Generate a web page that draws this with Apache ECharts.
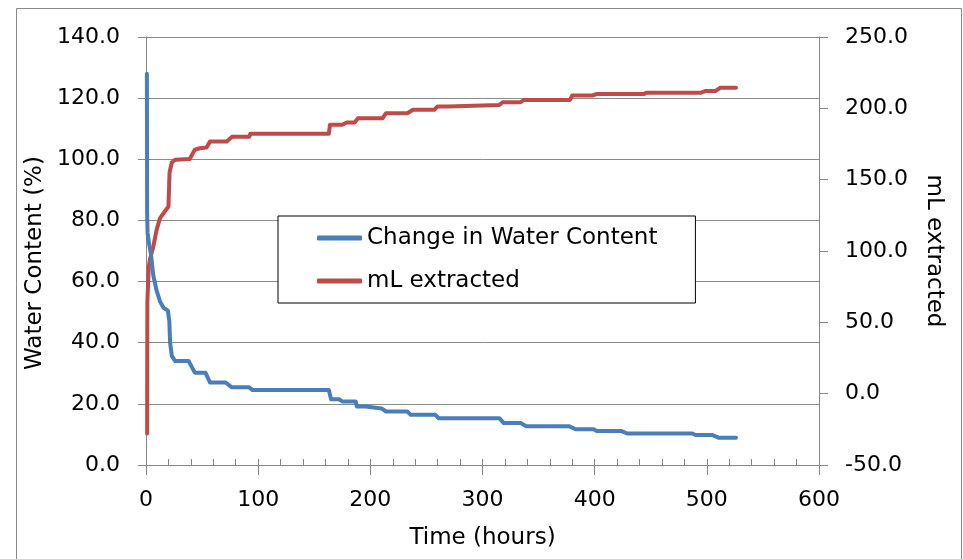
<!DOCTYPE html>
<html>
<head>
<meta charset="utf-8">
<script src="https://cdn.jsdelivr.net/npm/echarts@6/dist/echarts.min.js"></script>
<style>
  html, body { margin: 0; padding: 0; background: #fff; }
  #chart { width: 963px; height: 559px; }
</style>
</head>
<body>
<div id="chart"></div>
<script>
// hours vs water content (%)
const wcTime = [0.8, 1, 1.4, 2.9, 4.4, 6.5, 9.5, 12.5, 15.5, 19.5, 20.8, 21.5, 23, 26, 38, 43.5, 53, 57, 71, 76.5, 92, 95, 163,
  165, 172, 175, 187, 188, 196, 197, 210, 214, 233, 236, 258, 261, 315, 319, 334, 339, 377, 383, 399,
  402, 424, 429, 487, 490, 505, 511, 526]
const wcValue = [128, 82.5, 76, 72, 69, 62, 57, 53.5, 51.5, 50.5, 47, 40, 35.7, 34, 34, 30.2, 30.2, 27, 27, 25.4, 25.4, 24.5, 24.5,
  21.5, 21.5, 20.8, 20.8, 19.1, 19.1, 18.5, 18.5, 17.5, 17.5, 16.4, 16.4, 15.3, 15.3, 13.7, 13.7, 12.7, 12.7, 11.7, 11.7,
  11.1, 11.1, 10.3, 10.3, 9.8, 9.8, 8.9, 8.9]

// hours vs mL extracted (right axis)
const mlTime = [1, 1.2, 2.5, 3.5, 6.5, 9.5, 12.5, 17, 20, 21, 23, 26, 39, 43.5, 48, 54, 57, 72, 76.5, 92, 93, 163,
  164, 175, 179, 186, 189, 211, 214, 233, 238, 257, 260, 269, 270, 315, 318, 334, 337, 378, 380, 398,
  402, 444, 446, 495, 499, 508, 512, 526]
const mlValue = [-28, 64, 89, 94, 103, 115, 123, 128, 131, 155, 162, 164, 164.5, 171, 172, 172.5, 176.8, 176.8, 180, 180, 182.2, 182.2,
  188.5, 188.5, 190.1, 190.1, 193.1, 193.1, 196.6, 196.6, 199, 199, 201.3, 201.3, 202.4, 202.4, 204.3, 204.3, 205.9, 205.9, 209, 209,
  210.1, 210.1, 211, 211, 212.2, 212.2, 214.5, 214.5]

const seriesNames = ['Change in Water Content', 'mL extracted']

const FONT = 'DejaVu Sans'
const axisGrey = '#878787'

const chart = echarts.init(document.getElementById('chart'), null, { renderer: 'canvas' })

const fmt1 = v => v.toFixed(1)

chart.setOption({
  animation: false,
  textStyle: { fontFamily: FONT, color: '#000' },
  grid: { left: 146, right: 144, top: 37, bottom: 94 },
  graphic: [{
    type: 'rect',
    shape: { x: 16.5, y: 8.5, width: 945, height: 580 },
    style: { fill: 'none', stroke: '#8a8a8a', lineWidth: 1 },
    silent: true
  }],
  legend: {
    orient: 'vertical',
    left: 278,
    top: 216,
    padding: [10, 38, 10, 39],
    itemGap: 19,
    itemWidth: 45,
    itemHeight: 5,
    icon: 'roundRect',
    borderColor: '#000',
    borderWidth: 1,
    borderRadius: 0,
    backgroundColor: '#fff',
    textStyle: { fontFamily: FONT, fontSize: 23, color: '#000', lineHeight: 24, padding: [0, 0, 0, 0] },
    data: seriesNames
  },
  xAxis: [{
    type: 'value',
    position: 'bottom',
    min: 0,
    max: 600,
    interval: 100,
    name: 'Time (hours)',
    nameLocation: 'middle',
    nameGap: 62,
    nameTextStyle: { fontFamily: FONT, fontSize: 23, color: '#000' },
    axisLine: { onZero: false, lineStyle: { color: axisGrey, width: 1 } },
    axisTick: { show: true, length: 10, lineStyle: { color: axisGrey } },
    axisLabel: { fontFamily: FONT, fontSize: 22, color: '#000', margin: 24 },
    splitLine: { show: false }
  }, {
    // inner half of the crossing ticks and the minor ticks
    type: 'value',
    position: 'bottom',
    min: 0,
    max: 600,
    interval: 100,
    axisLine: { show: false, onZero: false },
    axisTick: { show: true, inside: true, length: 6, lineStyle: { color: axisGrey } },
    minorTick: { show: true, splitNumber: 5, length: 6, lineStyle: { color: axisGrey } },
    axisLabel: { show: false },
    splitLine: { show: false }
  }],
  yAxis: [{
    type: 'value',
    position: 'left',
    min: 0,
    max: 140,
    interval: 20,
    name: 'Water Content (%)',
    nameLocation: 'middle',
    nameGap: 91,
    nameTextStyle: { fontFamily: FONT, fontSize: 23, color: '#000', padding: [0, 24, 0, 0] },
    axisLine: { show: true, onZero: false, lineStyle: { color: axisGrey, width: 1 } },
    axisTick: { show: true, length: 8, lineStyle: { color: axisGrey } },
    axisLabel: { fontFamily: FONT, fontSize: 22, color: '#000', margin: 26, formatter: fmt1 },
    splitLine: { show: true, lineStyle: { color: '#8c8c8c', width: 1 } }
  }, {
    type: 'value',
    position: 'right',
    min: -50,
    max: 250,
    interval: 50,
    name: 'mL extracted',
    nameLocation: 'middle',
    nameGap: 103,
    nameRotate: -90,
    nameTextStyle: { fontFamily: FONT, fontSize: 23, color: '#000' },
    axisLine: { show: true, onZero: false, lineStyle: { color: axisGrey, width: 1 } },
    axisTick: { show: true, length: 9, lineStyle: { color: axisGrey } },
    axisLabel: { fontFamily: FONT, fontSize: 22, color: '#000', margin: 26, formatter: fmt1 },
    splitLine: { show: false }
  }, {
    type: 'value',
    position: 'left',
    min: 0,
    max: 140,
    interval: 20,
    axisLine: { show: false, onZero: false },
    axisTick: { show: true, inside: true, length: 7, lineStyle: { color: axisGrey } },
    axisLabel: { show: false },
    splitLine: { show: false }
  }],
  series: [{
    name: seriesNames[0],
    type: 'line',
    xAxisIndex: 0,
    yAxisIndex: 0,
    showSymbol: false,
    symbol: 'none',
    color: '#4a7ebb',
    lineStyle: { width: 4, color: '#4a7ebb', join: 'round', cap: 'round' },
    data: wcTime.map((t, i) => [t, wcValue[i]]),
    z: 3
  }, {
    name: seriesNames[1],
    type: 'line',
    xAxisIndex: 0,
    yAxisIndex: 1,
    showSymbol: false,
    symbol: 'none',
    color: '#be4b48',
    lineStyle: { width: 4, color: '#be4b48', join: 'round', cap: 'round' },
    data: mlTime.map((t, i) => [t, mlValue[i]]),
    z: 2
  }]
})
</script>
</body>
</html>
